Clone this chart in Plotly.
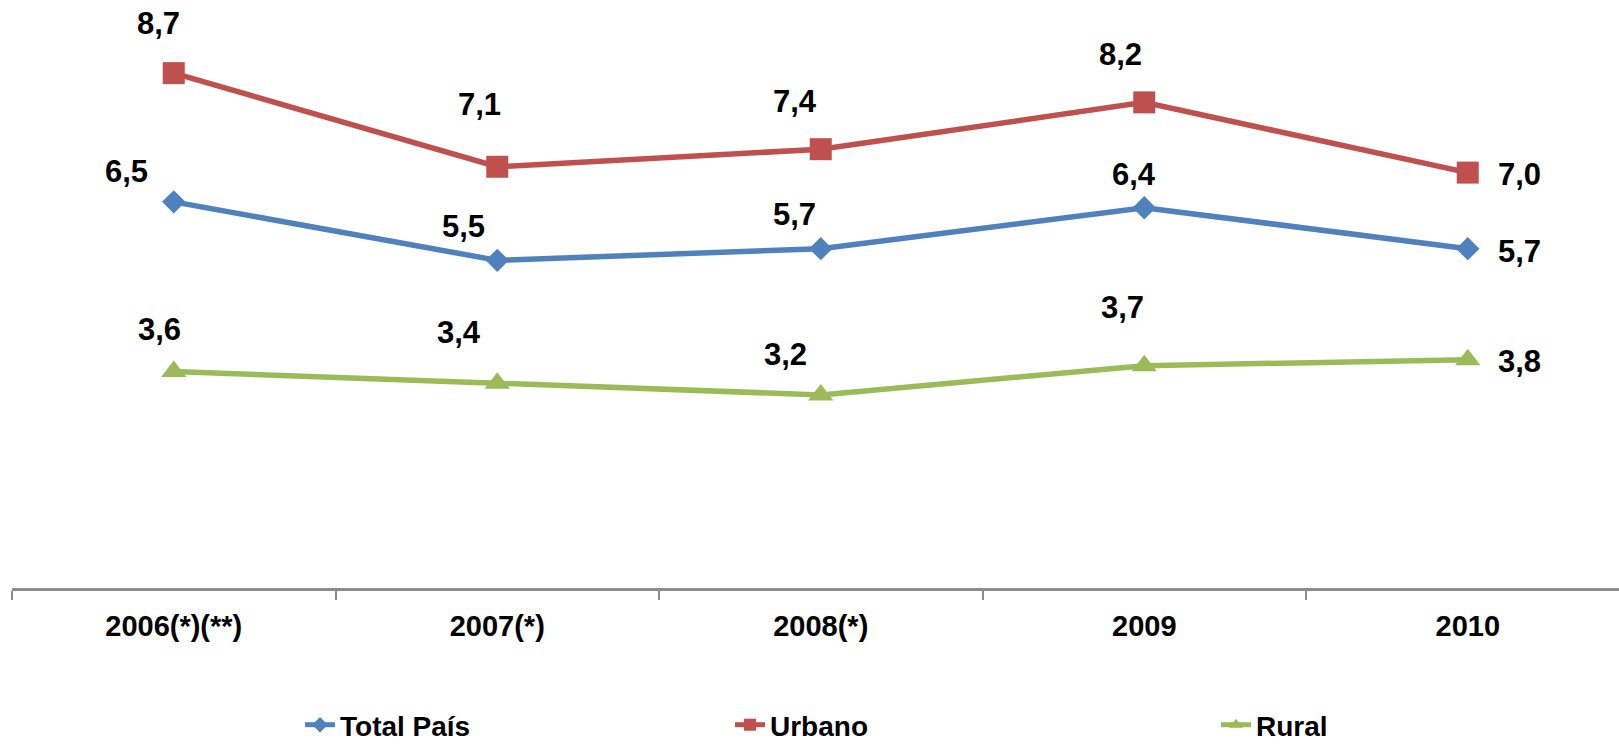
import plotly.graph_objects as go

categories = ["2006(*)(**)", "2007(*)", "2008(*)", "2009", "2010"]
total_pais = [6.5, 5.5, 5.7, 6.4, 5.7]
urbano = [8.7, 7.1, 7.4, 8.2, 7.0]
rural = [3.6, 3.4, 3.2, 3.7, 3.8]

series_names = ["Total País", "Urbano", "Rural"]
series_values = [total_pais, urbano, rural]
series_colors = ["#4F81BD", "#C0504D", "#9BBB59"]
series_symbols = ["diamond", "square", "triangle-up"]
series_sizes = [18, 22, 22]

# label offsets in screen pixels (dx, dy) relative to each marker
label_offsets = [
    [(-47, 30), (-34, 34), (-26, 34), (-10, 33), (52, -3)],
    [(-15, 50), (-18, 62), (-26, 48), (-24, 48), (52, -2)],
    [(-14, 42), (-38, 51), (-35, 40), (-22, 58), (52, -2)],
]

FONT = "Liberation Sans, Arial, sans-serif"

fig = go.Figure()
legend_ids = ["legend", "legend2", "legend3"]
for name, vals, col, sym, sz, lg in zip(series_names, series_values, series_colors,
                                        series_symbols, series_sizes, legend_ids):
    fig.add_trace(go.Scatter(
        x=categories, y=vals, mode="lines+markers", name=name,
        line=dict(color=col, width=5.5),
        marker=dict(symbol=sym, size=sz, color=col),
        cliponaxis=False, legend=lg,
    ))

annotations = []
for vals, offs in zip(series_values, label_offsets):
    for i, (v, (dx, dy)) in enumerate(zip(vals, offs)):
        annotations.append(dict(
            x=i, y=v, xref="x", yref="y",
            text="<b>" + f"{v:.1f}".replace(".", ",") + "</b>",
            showarrow=False, xshift=dx, yshift=dy,
            font=dict(family=FONT, size=31, color="black"),
        ))

W, H = 1619, 744
L, T, B = 12, 0, 156
plot_w = W - L
plot_h = H - T - B
x_unit = 323.5


def px_to_paper_x(px):
    return (px - L) / plot_w


def px_to_paper_y(py):
    return (H - B - py) / plot_h


legend_common = dict(
    orientation="h", xanchor="left", yanchor="middle",
    font=dict(family=FONT, size=28, color="black", weight="bold"),
    bgcolor="rgba(0,0,0,0)", borderwidth=0, itemsizing="constant",
)

fig.update_layout(
    width=W, height=H,
    margin=dict(l=L, r=0, t=T, b=B, pad=0, autoexpand=False),
    plot_bgcolor="white", paper_bgcolor="white",
    showlegend=True,
    legend=dict(x=px_to_paper_x(300), y=px_to_paper_y(725), **legend_common),
    legend2=dict(x=px_to_paper_x(730), y=px_to_paper_y(725), **legend_common),
    legend3=dict(x=px_to_paper_x(1216), y=px_to_paper_y(725), **legend_common),
    annotations=annotations,
    xaxis=dict(
        type="category", range=[-0.5, -0.5 + plot_w / x_unit],
        showgrid=False, zeroline=False,
        showline=True, linecolor="#8C8C8C", linewidth=3,
        ticks="outside", tickson="boundaries", ticklen=9, tickwidth=2,
        tickcolor="#8C8C8C",
        tickfont=dict(family=FONT, size=29, color="black", weight="bold"),
        ticklabelstandoff=10,
    ),
    yaxis=dict(
        range=[-0.1, 9.95], visible=False, showgrid=False, zeroline=False,
    ),
)

fig.write_html(
    "out.html",
    config={"displayModeBar": False},
    post_script="document.body.style.margin='0';document.body.style.overflow='hidden';",
)
